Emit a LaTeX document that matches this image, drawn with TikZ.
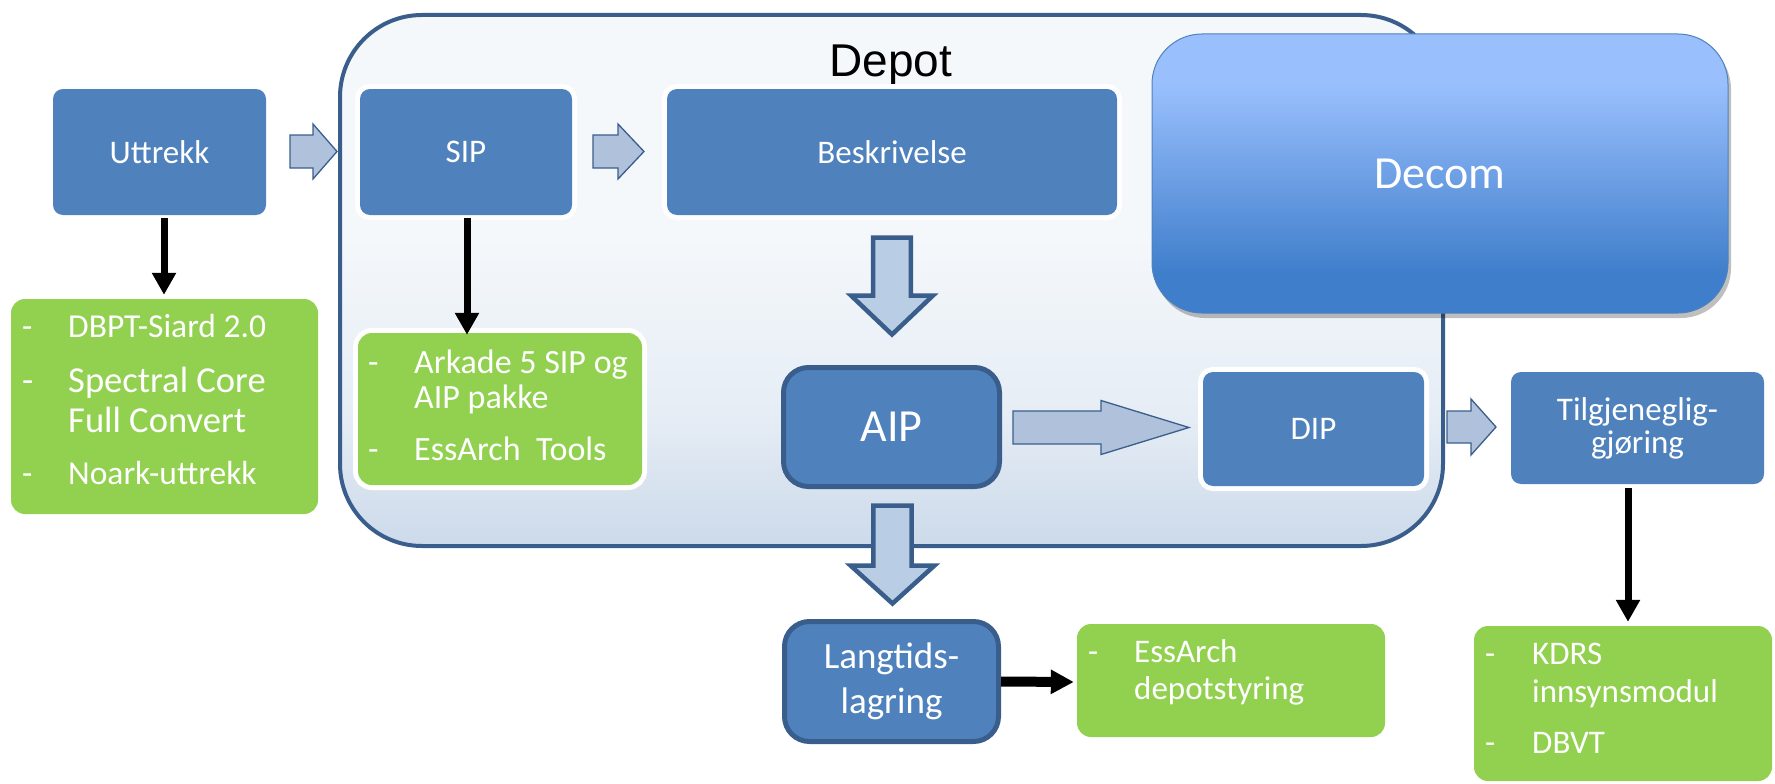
\documentclass[tikz,border=0pt]{standalone}
\usepackage{fontspec}
\setmainfont{Carlito}
\newfontfamily\arialfont{Liberation Sans}
\usetikzlibrary{arrows.meta,shadows,calc}

\definecolor{boxblue}{HTML}{4F81BD}
\definecolor{darkblue}{HTML}{3A5E8C}
\definecolor{lgreen}{HTML}{92D050}
\definecolor{harrowfill}{HTML}{B0C1DC}
\definecolor{varrowfill}{HTML}{B9CDE5}
\definecolor{depbot}{HTML}{CCDAEA}
\definecolor{depmid}{HTML}{E6EDF5}
\definecolor{deptop}{HTML}{F5F8FB}
\definecolor{decbot}{HTML}{3F7ECB}
\definecolor{dectop}{HTML}{99BFFD}

\pgfdeclareverticalshading{depotshade}{100bp}{color(0bp)=(depbot); color(25bp)=(depbot); color(37.5bp)=(depmid); color(55bp)=(deptop); color(100bp)=(deptop)}
\pgfdeclareverticalshading{decomshade}{100bp}{color(0bp)=(decbot); color(25bp)=(decbot); color(32bp)=(decbot); color(66bp)=(dectop); color(100bp)=(dectop)}

% horizontal block arrow: x start, x head base, x tip, y centre, shaft half, head half
\newcommand\hblockarrow[6]{\draw[harrowstyle] (#1,#4-#5) -- (#2,#4-#5) -- (#2,#4-#6) -- (#3,#4) -- (#2,#4+#6) -- (#2,#4+#5) -- (#1,#4+#5) -- cycle;}
% vertical block arrow: x centre, y start, y head base, y tip, shaft half, head half
\newcommand\vblockarrow[6]{\draw[varrowstyle] (#1-#5,#2) -- (#1+#5,#2) -- (#1+#5,#3) -- (#1+#6,#3) -- (#1,#4) -- (#1-#6,#3) -- (#1-#5,#3) -- cycle;}
% list line: dash x, text x, baseline y, font size, text
\newcommand\listline[5]{\node[listtext, font=\fontsize{#4pt}{#4pt}\selectfont, anchor=base west] at (#1,#3) {-};
  \node[listtext, font=\fontsize{#4pt}{#4pt}\selectfont, anchor=base west] at (#2,#3) {#5};}

\begin{document}
\begin{tikzpicture}[x=1pt,y=-1pt,
  bluebox/.style={fill=boxblue, rounded corners=10pt, text=white, inner sep=0pt, align=center},
  thickbox/.style={fill=boxblue, draw=darkblue, line width=5pt, rounded corners=25pt, text=white, inner sep=0pt, align=center},
  greenbox/.style={fill=lgreen, rounded corners=14pt, inner sep=0pt},
  glow/.style={preaction={draw=white, line width=10pt}},
  listtext/.style={text=white, inner sep=0pt},
  f33/.style={font=\fontsize{33pt}{33pt}\selectfont},
  harrowstyle/.style={fill=harrowfill, draw=darkblue, line width=1.3pt, line join=miter},
  varrowstyle/.style={fill=varrowfill, draw=darkblue, line width=4.5pt, line join=miter},
  blk/.style={-{Triangle[width=23pt,length=22pt]}, line width=7pt, black},
]
\useasboundingbox (0,0) rectangle (1775,784);
\clip (0,0) rectangle (1775,784);

% Depot container
\shadedraw[shading=depotshade, draw=darkblue, line width=4pt, rounded corners=82pt] (340,15) rectangle (1443,546);
\node[font=\arialfont\fontsize{46pt}{50pt}\selectfont, anchor=base, inner sep=0pt] (depottitle) at (891,77) {Depot};

% Decom
\node[shade, shading=decomshade, draw=boxblue, line width=1pt, rounded corners=50pt,
      minimum width=576pt, minimum height=279pt, inner sep=0pt, text=white,
      font=\fontsize{46pt}{46pt}\selectfont,
      drop shadow={shadow xshift=3pt, shadow yshift=-5pt, opacity=0.25, fill=black}] (decom) at (1440,173.5) {Decom};

% blue boxes
\node[bluebox, f33, minimum width=213pt, minimum height=126pt] (uttrekk) at (159.5,152) {Uttrekk};
\node[bluebox, glow, f33, minimum width=212pt, minimum height=126pt] (sip) at (466,152) {SIP};
\node[bluebox, glow, f33, minimum width=450pt, minimum height=126pt] (beskr) at (892,152) {Beskrivelse};
\node[bluebox, glow, f33, minimum width=221pt, minimum height=114pt] (dip) at (1313.5,429) {DIP};
\node[bluebox, minimum width=253pt, minimum height=112pt, font=\fontsize{33pt}{33pt}\selectfont] (tilgj) at (1637.5,428) {Tilgjeneglig-\\gjøring};
\node[thickbox, minimum width=216pt, minimum height=119pt, font=\fontsize{46pt}{46pt}\selectfont] (aip) at (891.5,427) {AIP};
\node[thickbox, minimum width=214pt, minimum height=120pt, font=\fontsize{37pt}{45pt}\selectfont] (langtids) at (891.5,681.5) {\raisebox{-3pt}{Langtids-}\\\raisebox{-3pt}{lagring}};

% green boxes
\node[greenbox, minimum width=307pt, minimum height=215pt] (tools1) at (164.5,406.5) {};
\node[greenbox, glow, minimum width=284pt, minimum height=152pt] (arkade) at (500,409) {};
\node[greenbox, minimum width=308pt, minimum height=113pt] (essarch) at (1231,680.5) {};
\node[greenbox, minimum width=298pt, minimum height=155pt] (kdrs) at (1623,703.5) {};

% list texts
\listline{22}{68}{337}{33.5}{DBPT-Siard 2.0}
\listline{22}{68}{392}{36.6}{Spectral Core}
\node[listtext, font=\fontsize{36.6pt}{36.6pt}\selectfont, anchor=base west] at (68,432) {Full Convert};
\listline{22}{68}{484}{33.5}{Noark-uttrekk}

\listline{368}{414}{373}{34}{Arkade 5 SIP og}
\node[listtext, font=\fontsize{34pt}{34pt}\selectfont, anchor=base west] at (414,408) {AIP pakke};
\listline{368}{414}{460}{34}{EssArch\ \ Tools}

\listline{1088}{1134}{662}{33}{EssArch}
\node[listtext, font=\fontsize{33pt}{33pt}\selectfont, anchor=base west] at (1134,699) {depotstyring};

\listline{1485}{1532}{664}{33}{KDRS}
\node[listtext, font=\fontsize{33pt}{33pt}\selectfont, anchor=base west] at (1532,702) {innsynsmodul};
\listline{1485}{1532}{753}{33}{DBVT}

% block arrows
\hblockarrow{290}{313}{337}{151.5}{16.5}{27.5}
\hblockarrow{593}{618}{644}{151.5}{16.5}{27.5}
\hblockarrow{1013}{1101}{1189}{427.5}{16.5}{27}
\hblockarrow{1447}{1471}{1496}{427}{16}{28}
\vblockarrow{892}{237.5}{295.5}{334.5}{18.8}{41}
\vblockarrow{892.5}{505.5}{565.5}{603.5}{19.2}{42}

% black arrows
\draw[blk] ([xshift=4.5pt,yshift=-3pt]uttrekk.south) -- ([xshift=-0.5pt,yshift=4pt]tools1.north);
\draw[blk] ([xshift=1pt,yshift=-3pt]sip.south) -- ([xshift=-33pt,yshift=-2pt]arkade.north);
\draw[blk] ([xshift=-9.5pt,yshift=-4pt]tilgj.south) -- ([xshift=5pt,yshift=4pt]kdrs.north);
\draw[-{Triangle[width=23pt,length=23pt]}, line width=10pt, black] (langtids.east) -- ([xshift=-3pt,yshift=-1.5pt]essarch.west);
\end{tikzpicture}
\end{document}
